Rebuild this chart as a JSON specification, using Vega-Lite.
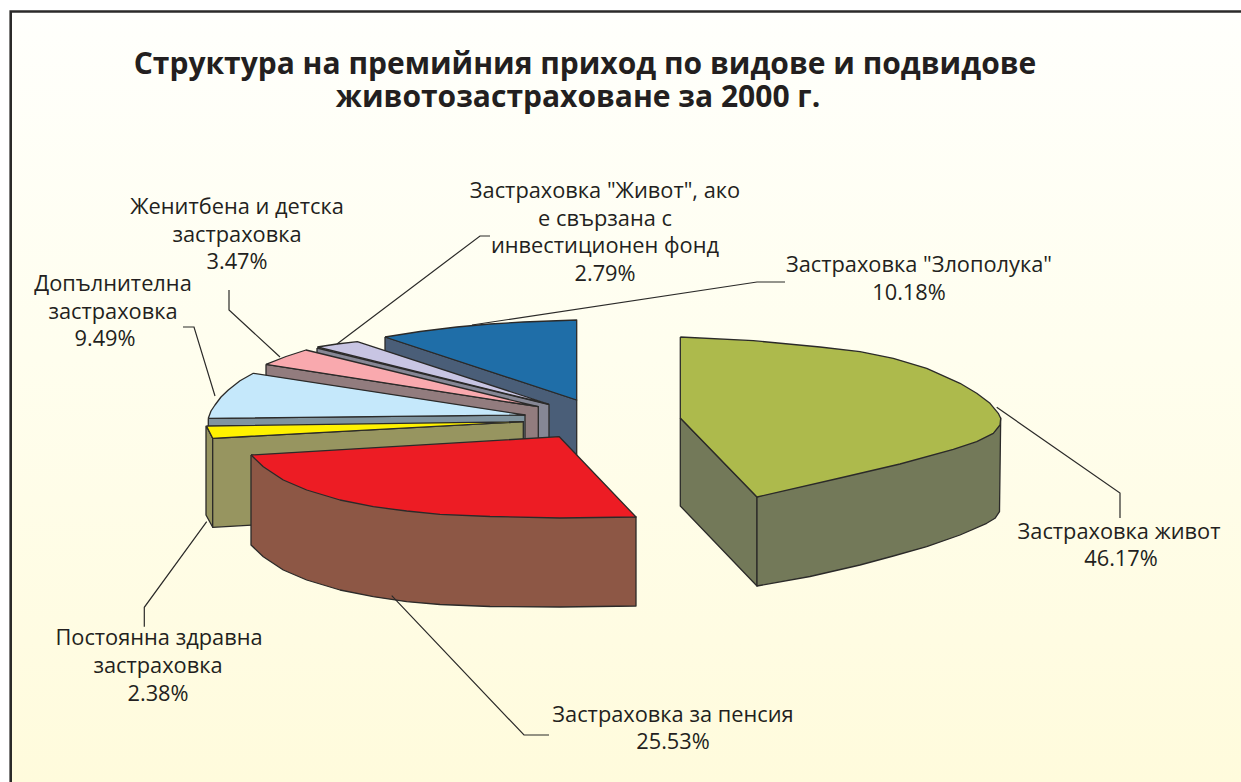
{"$schema":"https://vega.github.io/schema/vega-lite/v6.json","width":1241,"height":782,"padding":0,"autosize":{"type":"none"},"background":"#ffffff","config":{"view":{"stroke":null}},
"datasets":{
"bg":[{"x":11,"y":11,"x2":1241,"y2":782}],
"shapes":[
{"p":"a1","c":"#4A5E78","i":0,"x":385,"y":337},{"p":"a1","c":"#4A5E78","i":1,"x":576.7,"y":400},{"p":"a1","c":"#4A5E78","i":2,"x":576.7,"y":480},{"p":"a1","c":"#4A5E78","i":3,"x":385,"y":417},{"p":"a1","c":"#4A5E78","i":4,"x":385,"y":337},
{"p":"a2","c":"#1F6EA8","i":0,"x":385,"y":337},{"p":"a2","c":"#1F6EA8","i":1,"x":420,"y":331.5},{"p":"a2","c":"#1F6EA8","i":2,"x":456.7,"y":327},{"p":"a2","c":"#1F6EA8","i":3,"x":490,"y":324},{"p":"a2","c":"#1F6EA8","i":4,"x":523.3,"y":322},{"p":"a2","c":"#1F6EA8","i":5,"x":576.7,"y":320},{"p":"a2","c":"#1F6EA8","i":6,"x":576.7,"y":400},{"p":"a2","c":"#1F6EA8","i":7,"x":385,"y":337},
{"p":"b1","c":"#868795","i":0,"x":317,"y":348},{"p":"b1","c":"#868795","i":1,"x":549,"y":404.5},{"p":"b1","c":"#868795","i":2,"x":549,"y":490},{"p":"b1","c":"#868795","i":3,"x":317,"y":430},{"p":"b1","c":"#868795","i":4,"x":317,"y":348},
{"p":"b2","c":"#C8C5E3","i":0,"x":317.3,"y":347},{"p":"b2","c":"#C8C5E3","i":1,"x":337,"y":344},{"p":"b2","c":"#C8C5E3","i":2,"x":357.3,"y":341.7},{"p":"b2","c":"#C8C5E3","i":3,"x":548.3,"y":404},{"p":"b2","c":"#C8C5E3","i":4,"x":317.3,"y":347},
{"p":"c1","c":"#927C7E","i":0,"x":266,"y":364.3},{"p":"c1","c":"#927C7E","i":1,"x":538.3,"y":406.7},{"p":"c1","c":"#927C7E","i":2,"x":538.3,"y":490},{"p":"c1","c":"#927C7E","i":3,"x":266,"y":444},{"p":"c1","c":"#927C7E","i":4,"x":266,"y":364.3},
{"p":"c2","c":"#F9A9AE","i":0,"x":266,"y":364.3},{"p":"c2","c":"#F9A9AE","i":1,"x":286,"y":356.5},{"p":"c2","c":"#F9A9AE","i":2,"x":306,"y":350},{"p":"c2","c":"#F9A9AE","i":3,"x":538.3,"y":406.7},{"p":"c2","c":"#F9A9AE","i":4,"x":266,"y":364.3},
{"p":"d1","c":"#80949F","i":0,"x":208.3,"y":418.3},{"p":"d1","c":"#80949F","i":1,"x":525,"y":415},{"p":"d1","c":"#80949F","i":2,"x":525,"y":500},{"p":"d1","c":"#80949F","i":3,"x":208.3,"y":500},{"p":"d1","c":"#80949F","i":4,"x":208.3,"y":418.3},
{"p":"d2","c":"#C5E8FB","i":0,"x":208.3,"y":418.3},{"p":"d2","c":"#C5E8FB","i":1,"x":211,"y":411},{"p":"d2","c":"#C5E8FB","i":2,"x":215,"y":405},{"p":"d2","c":"#C5E8FB","i":3,"x":221,"y":397},{"p":"d2","c":"#C5E8FB","i":4,"x":228.3,"y":390},{"p":"d2","c":"#C5E8FB","i":5,"x":240,"y":380.7},{"p":"d2","c":"#C5E8FB","i":6,"x":253.3,"y":373.3},{"p":"d2","c":"#C5E8FB","i":7,"x":525,"y":415},{"p":"d2","c":"#C5E8FB","i":8,"x":208.3,"y":418.3},
{"p":"e1","c":"#979560","i":0,"x":206,"y":425.7},{"p":"e1","c":"#979560","i":1,"x":212.7,"y":438.3},{"p":"e1","c":"#979560","i":2,"x":212.7,"y":527.3},{"p":"e1","c":"#979560","i":3,"x":206,"y":515},{"p":"e1","c":"#979560","i":4,"x":206,"y":425.7},
{"p":"e2","c":"#979560","i":0,"x":212.7,"y":438.3},{"p":"e2","c":"#979560","i":1,"x":523.3,"y":421.7},{"p":"e2","c":"#979560","i":2,"x":523.3,"y":510},{"p":"e2","c":"#979560","i":3,"x":212.7,"y":527.3},{"p":"e2","c":"#979560","i":4,"x":212.7,"y":438.3},
{"p":"e3","c":"#FFF200","i":0,"x":206.5,"y":426},{"p":"e3","c":"#FFF200","i":1,"x":212.7,"y":438.3},{"p":"e3","c":"#FFF200","i":2,"x":523.3,"y":421.7},{"p":"e3","c":"#FFF200","i":3,"x":206.5,"y":426},
{"p":"f1","c":"#8D5745","i":0,"x":251,"y":455},{"p":"f1","c":"#8D5745","i":1,"x":251,"y":545},{"p":"f1","c":"#8D5745","i":2,"x":263.3,"y":556.7},{"p":"f1","c":"#8D5745","i":3,"x":283.3,"y":570},{"p":"f1","c":"#8D5745","i":4,"x":306.7,"y":580},{"p":"f1","c":"#8D5745","i":5,"x":340,"y":590},{"p":"f1","c":"#8D5745","i":6,"x":373.3,"y":596.7},{"p":"f1","c":"#8D5745","i":7,"x":406.7,"y":601.7},{"p":"f1","c":"#8D5745","i":8,"x":440,"y":604.5},{"p":"f1","c":"#8D5745","i":9,"x":490,"y":606.5},{"p":"f1","c":"#8D5745","i":10,"x":560,"y":607},{"p":"f1","c":"#8D5745","i":11,"x":636,"y":606},{"p":"f1","c":"#8D5745","i":12,"x":636,"y":517},{"p":"f1","c":"#8D5745","i":13,"x":251,"y":455},
{"p":"f2","c":"#ED1C24","i":0,"x":251,"y":455},{"p":"f2","c":"#ED1C24","i":1,"x":559.3,"y":436.7},{"p":"f2","c":"#ED1C24","i":2,"x":636,"y":517},{"p":"f2","c":"#ED1C24","i":3,"x":560,"y":518},{"p":"f2","c":"#ED1C24","i":4,"x":490,"y":516.5},{"p":"f2","c":"#ED1C24","i":5,"x":440,"y":514.3},{"p":"f2","c":"#ED1C24","i":6,"x":406.7,"y":511},{"p":"f2","c":"#ED1C24","i":7,"x":373.3,"y":506.7},{"p":"f2","c":"#ED1C24","i":8,"x":340,"y":500},{"p":"f2","c":"#ED1C24","i":9,"x":306.7,"y":490},{"p":"f2","c":"#ED1C24","i":10,"x":283.3,"y":480},{"p":"f2","c":"#ED1C24","i":11,"x":263.3,"y":466.7},{"p":"f2","c":"#ED1C24","i":12,"x":251,"y":455},
{"p":"g1","c":"#737959","i":0,"x":680.3,"y":418},{"p":"g1","c":"#737959","i":1,"x":757,"y":497},{"p":"g1","c":"#737959","i":2,"x":757,"y":586},{"p":"g1","c":"#737959","i":3,"x":680.3,"y":506},{"p":"g1","c":"#737959","i":4,"x":680.3,"y":418},
{"p":"g2","c":"#737959","i":0,"x":757,"y":497},{"p":"g2","c":"#737959","i":1,"x":1000.7,"y":418},{"p":"g2","c":"#737959","i":2,"x":999.5,"y":511.7},{"p":"g2","c":"#737959","i":3,"x":995,"y":518.3},{"p":"g2","c":"#737959","i":4,"x":986.7,"y":523.3},{"p":"g2","c":"#737959","i":5,"x":960,"y":535},{"p":"g2","c":"#737959","i":6,"x":926.7,"y":546.7},{"p":"g2","c":"#737959","i":7,"x":893.3,"y":556},{"p":"g2","c":"#737959","i":8,"x":860,"y":565},{"p":"g2","c":"#737959","i":9,"x":810,"y":576.5},{"p":"g2","c":"#737959","i":10,"x":757,"y":586},{"p":"g2","c":"#737959","i":11,"x":757,"y":497},
{"p":"g3","c":"#ADBA4C","i":0,"x":680.3,"y":337},{"p":"g3","c":"#ADBA4C","i":1,"x":753.3,"y":340.7},{"p":"g3","c":"#ADBA4C","i":2,"x":820,"y":347},{"p":"g3","c":"#ADBA4C","i":3,"x":860,"y":351.7},{"p":"g3","c":"#ADBA4C","i":4,"x":893.3,"y":358.3},{"p":"g3","c":"#ADBA4C","i":5,"x":926.7,"y":368.3},{"p":"g3","c":"#ADBA4C","i":6,"x":960,"y":383.3},{"p":"g3","c":"#ADBA4C","i":7,"x":976.7,"y":393.3},{"p":"g3","c":"#ADBA4C","i":8,"x":990,"y":403.3},{"p":"g3","c":"#ADBA4C","i":9,"x":998.3,"y":413.3},{"p":"g3","c":"#ADBA4C","i":10,"x":1000.7,"y":418.3},{"p":"g3","c":"#ADBA4C","i":11,"x":1000,"y":425},{"p":"g3","c":"#ADBA4C","i":12,"x":993.3,"y":433.3},{"p":"g3","c":"#ADBA4C","i":13,"x":976.7,"y":441.7},{"p":"g3","c":"#ADBA4C","i":14,"x":953.3,"y":449.3},{"p":"g3","c":"#ADBA4C","i":15,"x":900,"y":464},{"p":"g3","c":"#ADBA4C","i":16,"x":840,"y":478},{"p":"g3","c":"#ADBA4C","i":17,"x":757,"y":497},{"p":"g3","c":"#ADBA4C","i":18,"x":680.3,"y":418},{"p":"g3","c":"#ADBA4C","i":19,"x":680.3,"y":337}
],
"frame":[{"p":"t","i":0,"x":10.7,"y":782},{"p":"t","i":1,"x":10.7,"y":11.5},{"p":"t","i":2,"x":1241,"y":11.5}],
"leaders":[
{"p":"a","i":0,"x":472,"y":325},{"p":"a","i":1,"x":757,"y":282},{"p":"a","i":2,"x":785,"y":282},
{"p":"b","i":0,"x":337,"y":344},{"p":"b","i":1,"x":480,"y":236},{"p":"b","i":2,"x":490,"y":236},
{"p":"c","i":0,"x":280,"y":357},{"p":"c","i":1,"x":229,"y":310},{"p":"c","i":2,"x":229,"y":290},
{"p":"d","i":0,"x":215,"y":396},{"p":"d","i":1,"x":194,"y":327},{"p":"d","i":2,"x":183,"y":327},
{"p":"e","i":0,"x":206.7,"y":521.7},{"p":"e","i":1,"x":144.3,"y":607.3},{"p":"e","i":2,"x":144.3,"y":626.7},
{"p":"f","i":0,"x":391.7,"y":595.7},{"p":"f","i":1,"x":524,"y":735},{"p":"f","i":2,"x":549,"y":735},
{"p":"g","i":0,"x":996.7,"y":407.3},{"p":"g","i":1,"x":1120,"y":493},{"p":"g","i":2,"x":1120,"y":518}
],
"title":[{"t":"Структура на премийния приход по видове и подвидове","x":585,"y":74},{"t":"животозастраховане за 2000 г.","x":578,"y":107}],
"labels":[
{"t":"Застраховка \"Живот\", ако","x":605,"y":198},{"t":"е свързана с","x":605,"y":226},{"t":"инвестиционен фонд","x":605,"y":253},{"t":"2.79%","x":605,"y":281},
{"t":"Женитбена и детска","x":237,"y":214},{"t":"застраховка","x":237,"y":242},{"t":"3.47%","x":237,"y":269},
{"t":"Допълнителна","x":113,"y":291},{"t":"застраховка","x":113,"y":319},{"t":"9.49%","x":105,"y":346},
{"t":"Застраховка \"Злополука\"","x":919,"y":272},{"t":"10.18%","x":909,"y":300},
{"t":"Застраховка живот","x":1119,"y":539},{"t":"46.17%","x":1121,"y":566},
{"t":"Постоянна здравна","x":159,"y":645},{"t":"застраховка","x":158,"y":673},{"t":"2.38%","x":158,"y":701},
{"t":"Застраховка за пенсия","x":673,"y":722},{"t":"25.53%","x":673,"y":749}
]},
"encoding":{"x":{"field":"x","type":"quantitative","scale":{"domain":[0,1241],"nice":false,"zero":false},"axis":null},"y":{"field":"y","type":"quantitative","scale":{"domain":[782,0],"nice":false,"zero":false},"axis":null}},
"layer":[
{"data":{"name":"bg"},"mark":{"type":"rect","color":{"gradient":"linear","x1":0,"y1":0,"x2":0,"y2":1,"stops":[{"offset":0,"color":"#FFFFFC"},{"offset":0.45,"color":"#FFFEEE"},{"offset":1,"color":"#FFFBDC"}]}},"encoding":{"x2":{"field":"x2"},"y2":{"field":"y2"}}},
{"data":{"name":"frame"},"mark":{"type":"line","stroke":"#2b2a29","strokeWidth":2.6,"strokeJoin":"miter"},"encoding":{"order":{"field":"i"},"detail":{"field":"p"}}},
{"data":{"name":"shapes"},"mark":{"type":"line","stroke":"#2b2a29","strokeWidth":1.3,"strokeJoin":"round"},"encoding":{"order":{"field":"i"},"detail":{"field":"p"},"fill":{"field":"c","type":"nominal","scale":null}}},
{"data":{"name":"leaders"},"mark":{"type":"line","stroke":"#2b2a29","strokeWidth":1.2},"encoding":{"order":{"field":"i"},"detail":{"field":"p"}}},
{"data":{"name":"title"},"mark":{"type":"text","font":"Open Sans","fontWeight":"bold","fontSize":30,"align":"center","baseline":"alphabetic","color":"#231F20"},"encoding":{"text":{"field":"t"}}},
{"data":{"name":"labels"},"mark":{"type":"text","font":"Open Sans","fontSize":21.8,"align":"center","baseline":"alphabetic","color":"#231F20"},"encoding":{"text":{"field":"t"}}}
]}
